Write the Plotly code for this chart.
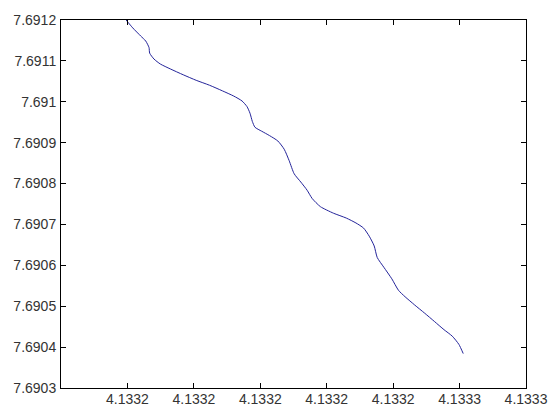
import plotly.graph_objects as go

# Curve data
x_vals = [4.1331596, 4.1331616, 4.1331640, 4.1331655, 4.1331665, 4.1331667, 4.1331680,
          4.1331699, 4.1331729, 4.1331768, 4.1331807, 4.1331847, 4.1331886, 4.1331920,
          4.1331945, 4.1331960, 4.1331969, 4.1331976, 4.1331984, 4.1332004, 4.1332028,
          4.1332053, 4.1332072, 4.1332087, 4.1332102, 4.1332122, 4.1332141, 4.1332156,
          4.1332181, 4.1332220, 4.1332259, 4.1332288, 4.1332311, 4.1332328, 4.1332343,
          4.1332352, 4.1332372, 4.1332396, 4.1332416, 4.1332436, 4.1332465, 4.1332495,
          4.1332524, 4.1332553, 4.1332578, 4.1332598, 4.1332611]
y_vals = [7.6912000, 7.6911807, 7.6911608, 7.6911487, 7.6911326, 7.6911189, 7.6911045,
          7.6910924, 7.6910804, 7.6910660, 7.6910525, 7.6910405, 7.6910267, 7.6910140,
          7.6910020, 7.6909882, 7.6909721, 7.6909521, 7.6909377, 7.6909281, 7.6909172,
          7.6909040, 7.6908840, 7.6908559, 7.6908239, 7.6908037, 7.6907837, 7.6907637,
          7.6907435, 7.6907276, 7.6907156, 7.6907036, 7.6906911, 7.6906713, 7.6906473,
          7.6906193, 7.6905953, 7.6905671, 7.6905390, 7.6905231, 7.6905029, 7.6904829,
          7.6904629, 7.6904427, 7.6904268, 7.6904066, 7.6903842]

# Tick values and labels
x_ticks = [4.13316, 4.13318, 4.13320, 4.13322, 4.13324, 4.13326, 4.13328]
x_ticklabels = ["4.1332", "4.1332", "4.1332", "4.1332", "4.1332", "4.1333", "4.1333"]
y_ticks = [7.6903, 7.6904, 7.6905, 7.6906, 7.6907, 7.6908, 7.6909, 7.6910, 7.6911, 7.6912]
y_ticklabels = ["7.6903", "7.6904", "7.6905", "7.6906", "7.6907", "7.6908", "7.6909",
                "7.691", "7.6911", "7.6912"]
x_range = [4.13314, 4.13328]
y_range = [7.6903, 7.6912]

fig = go.Figure()
fig.add_trace(go.Scatter(
    x=x_vals, y=y_vals, mode="lines",
    line=dict(color="#24249a", width=1, shape="spline", smoothing=0.6),
    showlegend=False, hoverinfo="skip",
))

axis_common = dict(
    showgrid=False, zeroline=False, showline=True, linecolor="black", linewidth=1,
    mirror="ticks", ticks="inside", ticklen=5, tickwidth=1, tickcolor="black",
    tickfont=dict(family="Liberation Sans, Arial, sans-serif", size=14, color="#333333"),
)

fig.update_layout(
    width=560, height=419,
    margin=dict(l=61, r=23, t=17, b=28),
    paper_bgcolor="white", plot_bgcolor="white",
    xaxis=dict(range=x_range, tickmode="array", tickvals=x_ticks, ticktext=x_ticklabels,
               ticklabelstandoff=-2, **axis_common),
    yaxis=dict(range=y_range, tickmode="array", tickvals=y_ticks, ticktext=y_ticklabels,
               ticklabelstandoff=1, **axis_common),
)

fig.write_html("out.html", config={"displayModeBar": False},
               post_script="document.body.style.margin='0';document.body.style.overflow='hidden';")
